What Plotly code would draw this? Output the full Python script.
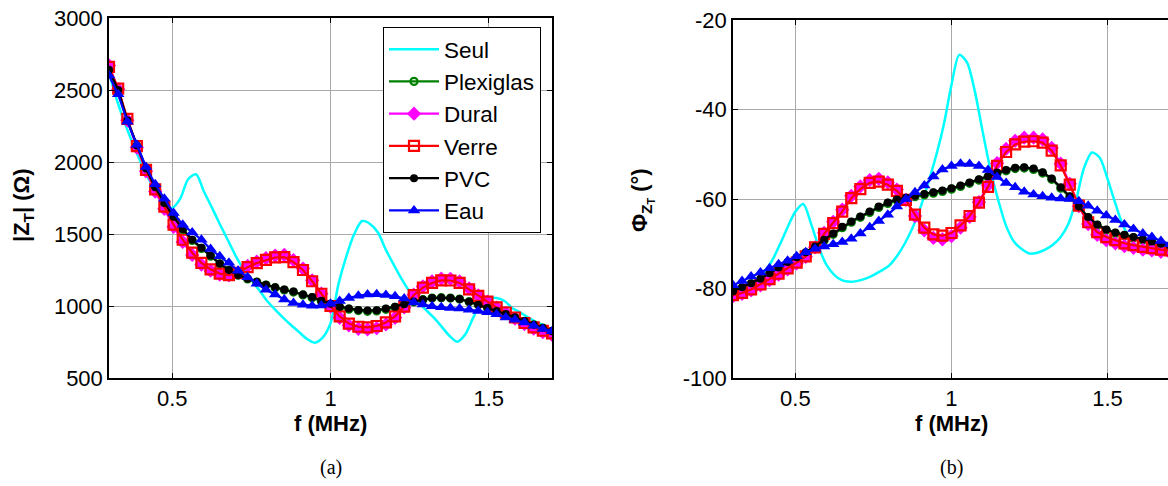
import plotly.graph_objects as go

# ---------------- data ----------------
freq = [0.300, 0.329, 0.358, 0.388, 0.417, 0.446, 0.475, 0.504, 0.533, 0.563,
        0.592, 0.621, 0.650, 0.679, 0.708, 0.738, 0.767, 0.796, 0.825, 0.854,
        0.883, 0.913, 0.942, 0.971, 1.000, 1.029, 1.058, 1.088, 1.117, 1.146,
        1.175, 1.204, 1.233, 1.263, 1.292, 1.321, 1.350, 1.379, 1.408, 1.438,
        1.467, 1.496, 1.525, 1.554, 1.583, 1.613, 1.642, 1.671, 1.700]

freq_seul = [0.300, 0.325, 0.350, 0.375, 0.400, 0.425, 0.450, 0.475, 0.500, 0.525,
             0.550, 0.575, 0.600, 0.625, 0.650, 0.675, 0.700, 0.725, 0.750, 0.775,
             0.800, 0.825, 0.850, 0.875, 0.900, 0.925, 0.950, 0.975, 1.000, 1.025,
             1.050, 1.075, 1.100, 1.125, 1.150, 1.175, 1.200, 1.225, 1.250, 1.275,
             1.300, 1.325, 1.350, 1.375, 1.400, 1.425, 1.450, 1.475, 1.500, 1.525,
             1.550, 1.575, 1.600, 1.625, 1.650, 1.675, 1.700]

# |Z_T| (Ohm)
mag_seul = [2620, 2430, 2270, 2130, 2000, 1885, 1785, 1710, 1680, 1745,
            1880, 1915, 1795, 1685, 1570, 1460, 1350, 1255, 1180, 1110,
            1035, 975, 920, 868, 820, 772, 745, 780, 880, 1150,
            1345, 1500, 1590, 1570, 1510, 1390, 1286, 1186, 1100, 1033,
            976, 922, 860, 795, 752, 800, 914, 1020, 1055, 1055,
            1035, 985, 955, 920, 890, 865, 835]
mag_plexi = [2630, 2495, 2285, 2110, 1950, 1820, 1710, 1615, 1530, 1455,
             1400, 1346, 1292, 1248, 1213, 1188, 1166, 1145, 1127, 1111,
             1097, 1077, 1058, 1033, 1012, 991, 978, 968, 963, 966,
             977, 991, 1010, 1029, 1044, 1055, 1058, 1055, 1048, 1030,
             1008, 987, 965, 943, 921, 894, 869, 847, 824]
mag_dural = [2670, 2505, 2290, 2100, 1935, 1795, 1675, 1550, 1445, 1355,
             1288, 1245, 1218, 1212, 1232, 1278, 1308, 1332, 1350, 1354,
             1318, 1260, 1178, 1085, 995, 918, 866, 842, 837, 846,
             872, 918, 990, 1078, 1136, 1170, 1190, 1189, 1170, 1122,
             1073, 1030, 988, 950, 913, 874, 843, 818, 800]
mag_verre = [2660, 2510, 2300, 2110, 1945, 1810, 1690, 1565, 1460, 1370,
             1300, 1255, 1225, 1215, 1230, 1270, 1298, 1320, 1337, 1340,
             1305, 1250, 1172, 1085, 1000, 928, 878, 856, 852, 861,
             886, 928, 995, 1075, 1128, 1160, 1178, 1177, 1160, 1115,
             1070, 1030, 990, 955, 920, 882, 852, 828, 810]
mag_pvc = [2640, 2500, 2290, 2115, 1955, 1825, 1715, 1620, 1535, 1460,
           1405, 1350, 1295, 1250, 1215, 1190, 1168, 1148, 1130, 1114,
           1100, 1080, 1062, 1037, 1016, 995, 983, 973, 968, 971,
           982, 995, 1013, 1031, 1045, 1055, 1058, 1055, 1048, 1030,
           1009, 988, 966, 944, 922, 895, 870, 848, 825]
mag_eau = [2600, 2470, 2280, 2120, 1965, 1845, 1745, 1645, 1565, 1510,
           1460, 1395, 1345, 1300, 1245, 1200, 1155, 1112, 1080, 1045,
           1020, 1008, 1001, 1003, 1015, 1035, 1056, 1072, 1080, 1081,
           1077, 1067, 1052, 1024, 1010, 998, 991, 986, 982, 974,
           966, 956, 943, 921, 904, 885, 862, 840, 825]

# Phi_{Z_T} (deg)
ph_seul = [-80.0, -79.6, -79.0, -78.0, -76.3, -73.8, -70.2, -66.3, -62.8, -61.1,
           -65.5, -70.8, -74.8, -77.0, -78.2, -78.5, -78.3, -77.8, -77.0, -76.0,
           -74.9, -72.8, -70.0, -66.5, -62.0, -56.5, -50.5, -43.5, -34.5, -27.8,
           -29.5, -36.0, -45.0, -53.5, -60.3, -66.0, -69.5, -71.2, -72.2, -72.0,
           -71.3, -70.2, -68.5, -65.5, -60.0, -53.0, -49.6, -50.8, -55.5, -61.0,
           -66.0, -69.2, -70.8, -71.5, -71.8, -72.0, -72.0]
ph_plexi = [-80.8, -79.9, -79.0, -78.0, -76.8, -75.5, -74.3, -73.2, -72.1, -70.8,
            -69.3, -67.9, -66.4, -65.2, -64.1, -63.0, -61.9, -61.0, -60.3, -59.9,
            -59.5, -59.1, -58.7, -58.3, -57.8, -57.2, -56.5, -55.8, -55.1, -54.3,
            -53.7, -53.2, -53.1, -53.4, -54.2, -55.6, -57.6, -59.6, -61.9, -64.2,
            -65.9, -67.0, -67.7, -68.2, -68.7, -69.2, -69.7, -70.2, -70.6]
ph_dural = [-81.7, -81.2, -80.4, -79.3, -78.1, -76.9, -75.7, -74.4, -72.9, -70.8,
            -67.6, -65.1, -62.4, -59.3, -57.2, -55.8, -55.5, -56.3, -57.9, -60.2,
            -63.8, -67.0, -68.7, -69.0, -68.3, -66.4, -64.0, -60.7, -56.9, -52.0,
            -48.8, -47.0, -46.3, -46.3, -46.7, -48.6, -52.1, -56.6, -61.6, -65.6,
            -68.0, -69.2, -69.9, -70.5, -70.9, -71.3, -71.5, -71.8, -72.0]
ph_verre = [-81.5, -81.0, -80.2, -79.1, -77.9, -76.7, -75.5, -74.2, -72.8, -70.8,
            -67.8, -65.4, -62.8, -59.8, -57.8, -56.4, -56.1, -56.8, -58.2, -60.2,
            -63.5, -66.4, -67.9, -68.2, -67.6, -65.9, -63.8, -60.8, -57.3, -52.6,
            -49.5, -47.8, -47.2, -47.1, -47.4, -49.2, -52.5, -56.8, -61.5, -65.2,
            -67.4, -68.5, -69.2, -69.9, -70.3, -70.7, -71.0, -71.3, -71.5]
ph_pvc = [-80.6, -79.7, -78.8, -77.8, -76.6, -75.3, -74.1, -73.0, -71.9, -70.6,
          -69.1, -67.7, -66.2, -65.0, -63.9, -62.8, -61.7, -60.8, -60.1, -59.7,
          -59.3, -58.9, -58.5, -58.1, -57.6, -57.0, -56.3, -55.6, -54.9, -54.1,
          -53.5, -53.0, -52.9, -53.2, -54.0, -55.4, -57.4, -59.4, -61.7, -64.0,
          -65.7, -66.8, -67.5, -68.0, -68.5, -69.0, -69.5, -70.0, -70.4]
ph_eau = [-79.3, -78.3, -77.3, -76.4, -75.5, -74.6, -73.8, -72.8, -71.9, -71.1,
          -70.6, -70.1, -69.6, -68.9, -67.7, -66.3, -64.9, -63.5, -61.7, -60.0,
          -58.5, -57.0, -55.0, -53.4, -52.6, -52.1, -52.2, -52.6, -53.5, -55.1,
          -56.4, -57.4, -58.4, -59.0, -59.4, -59.7, -59.9, -60.0, -60.5, -61.5,
          -62.6, -63.7, -64.7, -65.7, -66.7, -67.7, -68.5, -69.4, -70.1]

x_ticks = [0.5, 1, 1.5]
x_ticktext = ["0.5", "1", "1.5"]
mag_ticks = [500, 1000, 1500, 2000, 2500, 3000]
mag_ticktext = ["500", "1000", "1500", "2000", "2500", "3000"]
ph_ticks = [-100, -80, -60, -40, -20]
ph_ticktext = ["-100", "-80", "-60", "-40", "-20"]

# ---------------- styles ----------------
series = [
    ("Seul", freq_seul, mag_seul, ph_seul, "#00FFFF", None, 0),
    ("Plexiglas", freq, mag_plexi, ph_plexi, "#008000", "circle-open", 7),
    ("Dural", freq, mag_dural, ph_dural, "#FF00FF", "diamond", 11),
    ("Verre", freq, mag_verre, ph_verre, "#FF0000", "square-open", 10),
    ("PVC", freq, mag_pvc, ph_pvc, "#000000", "circle", 8),
    ("Eau", freq, mag_eau, ph_eau, "#0000FF", "triangle-up", 11),
]

fig = go.Figure()
for name, fx, ym, yp, col, sym, size in series:
    for axis_idx, yvals in ((1, ym), (2, yp)):
        kw = dict(x=fx, y=yvals, name=name,
                  showlegend=(axis_idx == 1),
                  xaxis="x" if axis_idx == 1 else "x2",
                  yaxis="y" if axis_idx == 1 else "y2")
        if sym is None:
            fig.add_trace(go.Scatter(mode="lines",
                                     line=dict(color=col, width=2.5, shape="spline", smoothing=0.8),
                                     **kw))
        else:
            fig.add_trace(go.Scatter(mode="lines+markers",
                                     line=dict(color=col, width=2.2),
                                     marker=dict(symbol=sym, size=size, color=col,
                                                 line=dict(color=col, width=2.2 if "open" in sym else 0)),
                                     **kw))

# page body margin is removed by post_script below, so figure px == screen px
W, H = 1168, 486
def px(x):
    return x / W
def py(y):
    return (H - y) / H

FONT = "Arial, Liberation Sans, sans-serif"
tickfont = dict(family=FONT, size=22, color="black")
common = dict(showgrid=True, gridcolor="#a9a9a9", gridwidth=1, zeroline=False,
              showline=True, linecolor="black", linewidth=1.5,
              ticks="inside", ticklen=5, tickcolor="black", tickwidth=1,
              tickfont=tickfont, automargin=False, ticklabeloverflow="allow")

fig.update_layout(
    width=W, height=H,
    margin=dict(l=0, r=0, t=0, b=0, autoexpand=False),
    paper_bgcolor="white", plot_bgcolor="white",
    xaxis=dict(domain=[px(109), px(552)], range=[0.3, 1.7], anchor="y", mirror="ticks",
               tickvals=x_ticks, ticktext=x_ticktext, **common),
    yaxis=dict(domain=[py(378), py(18)], range=[500, 3000],
               tickvals=mag_ticks, ticktext=mag_ticktext,
               anchor="x", mirror="ticks", **common),
    xaxis2=dict(domain=[px(733), 1.0], range=[0.3, 1.6937], anchor="y2", mirror="ticks",
                tickvals=x_ticks, ticktext=x_ticktext, **common),
    yaxis2=dict(domain=[py(378), py(20)], range=[-100, -20],
                tickvals=ph_ticks, ticktext=ph_ticktext,
                anchor="x2", mirror=False, **common),
    legend=dict(x=px(383), y=py(27), xanchor="left", yanchor="top",
                bgcolor="white", bordercolor="black", borderwidth=1,
                font=dict(family=FONT, size=22.5, color="black"),
                itemwidth=50),
    showlegend=True,
)

title_font = dict(family=FONT, size=22, color="black")
cap_font = dict(family="Times New Roman, Liberation Serif, serif", size=20, color="black")
ann = [
    dict(text="<b>f (MHz)</b>", x=px(330.5), y=py(423), font=title_font),
    dict(text="<b>f (MHz)</b>", x=px(951.5), y=py(423), font=title_font),
    dict(text="<b>|Z<sub>T</sub>| (Ω)</b>", x=px(23), y=py(205), font=title_font, textangle=-90),
    dict(text="<b>Φ<sub>Z<sub>T</sub></sub> (°)</b>", x=px(642), y=py(200), font=title_font, textangle=-90),
    dict(text="(a)", x=px(331), y=py(467), font=cap_font),
    dict(text="(b)", x=px(951), y=py(467), font=cap_font),
]
for a in ann:
    fig.add_annotation(xref="paper", yref="paper", showarrow=False,
                       xanchor="center", yanchor="middle", **a)

fig.write_html("out.html",
               config={"displayModeBar": False},
               post_script="document.body.style.margin='0px';document.body.style.overflow='hidden';")
